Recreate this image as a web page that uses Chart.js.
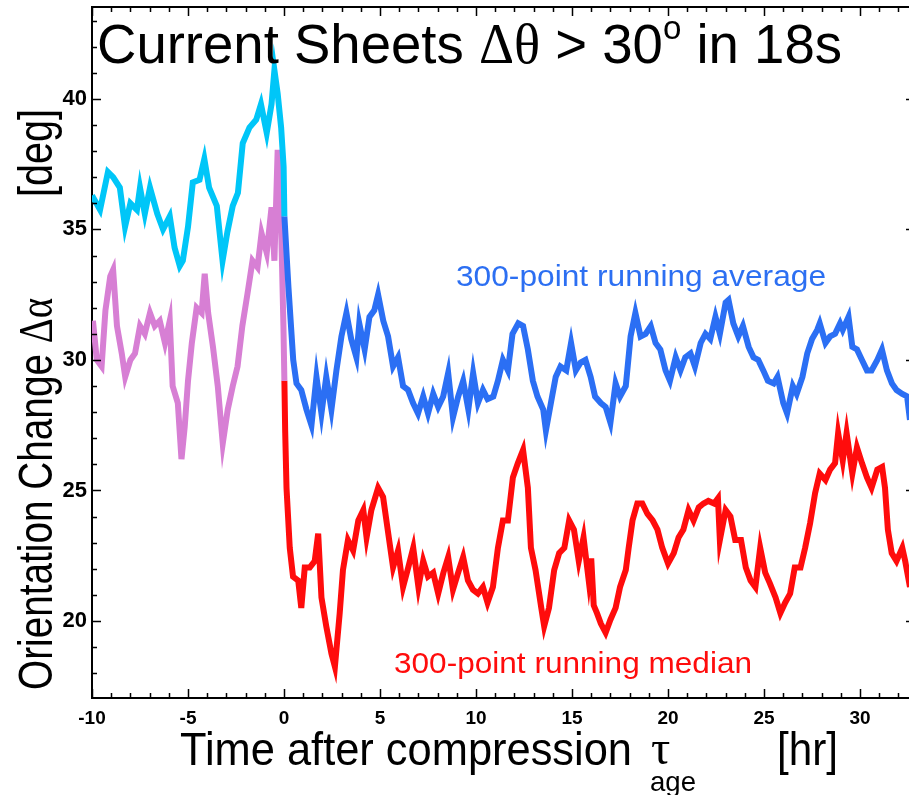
<!DOCTYPE html>
<html>
<head>
<meta charset="utf-8">
<script src="https://cdn.jsdelivr.net/npm/chart.js@4.4.0/dist/chart.umd.min.js"></script>
<style>
  body { margin: 0; background: #fff; }
  #wrap { width: 909px; height: 795px; }
</style>
</head>
<body>
<div id="wrap"><canvas id="chart" width="909" height="795"></canvas></div>
<script>
// running average before compression (cyan)
const avgPreTime = [
  -10, -9.58, -9.17, -8.9, -8.55, -8.28, -8.0, -7.66, -7.5, -7.25,
  -6.98, -6.6, -6.3, -5.95, -5.7, -5.43, -5.27, -5.0, -4.75, -4.4,
  -4.15, -3.9, -3.5, -3.2, -2.95, -2.67, -2.4, -2.15, -1.8, -1.45,
  -1.2, -0.9, -0.65, -0.5, -0.33, -0.15, -0.02, 0.02
];
const avgPreValue = [
  36.3, 35.75, 37.2, 37.0, 36.6, 35.1, 36.0, 35.75, 36.6, 35.6,
  36.6, 35.6, 35.0, 35.5, 34.3, 33.6, 33.8, 35.1, 36.8, 36.9,
  37.7, 36.6, 35.9, 33.8, 34.9, 35.9, 36.4, 38.3, 38.9, 39.2,
  39.8, 38.7, 39.8, 41.1, 40.2, 38.9, 37.4, 35.5
];
// running average after compression (blue)
const avgPostTime = [
  0.02, 0.23, 0.48, 0.65, 0.9, 1.17, 1.43, 1.69, 1.95, 2.2,
  2.47, 2.73, 2.99, 3.25, 3.5, 3.77, 3.92, 4.2, 4.45, 4.7,
  4.9, 5.17, 5.42, 5.68, 5.94, 6.2, 6.46, 6.72, 6.98, 7.25,
  7.5, 7.77, 8.03, 8.29, 8.55, 8.8, 9.07, 9.33, 9.6, 9.85,
  10.1, 10.36, 10.6, 10.9, 11.14, 11.4, 11.66, 11.9, 12.2, 12.45,
  12.7, 12.96, 13.2, 13.5, 13.64, 13.9, 14.15, 14.4, 14.7, 14.95,
  15.2, 15.45, 15.7, 15.97, 16.2, 16.5, 16.75, 17.0, 17.27, 17.5,
  17.8, 18.05, 18.3, 18.57, 18.83, 19.1, 19.35, 19.6, 19.87, 20.1,
  20.4, 20.65, 20.9, 21.17, 21.4, 21.7, 21.95, 22.2, 22.47, 22.7,
  23.0, 23.15, 23.4, 23.66, 23.9, 24.2, 24.45, 24.7, 24.96, 25.2,
  25.5, 25.7, 26.0, 26.2, 26.5, 26.7, 27.0, 27.25, 27.5, 27.77,
  27.9, 28.2, 28.44, 28.7, 28.96, 29.1, 29.4, 29.6, 29.84, 30.1,
  30.36, 30.6, 30.9, 31.14, 31.4, 31.66, 31.9, 32.2, 32.45, 32.6
];
const avgPostValue = [
  35.5, 32.8, 30.0, 29.1, 28.85, 28.1, 27.5, 29.35, 27.95, 29.35,
  28.1, 29.6, 30.9, 31.8, 30.8, 30.1, 31.4, 30.4, 31.65, 31.9,
  32.5, 31.5, 30.9, 29.75, 30.1, 29.0, 28.85, 28.35, 27.95, 28.6,
  27.95, 28.7, 28.2, 28.6, 29.5, 27.8, 28.6, 29.2, 28.1, 29.5,
  28.35, 28.85, 28.5, 28.6, 29.2, 30.0, 29.6, 31.0, 31.4, 31.3,
  30.4, 29.2, 28.6, 28.1, 27.3, 28.35, 29.35, 29.75, 29.6, 30.65,
  29.6, 29.9, 30.0, 29.35, 28.6, 28.35, 28.2, 27.6, 29.1, 28.6,
  29.0, 30.9, 31.8, 30.9, 31.0, 31.3, 30.65, 30.4, 29.6, 29.2,
  30.1, 29.6, 30.1, 30.25, 29.75, 30.65, 31.0, 30.8, 31.65, 31.0,
  32.2, 32.3, 31.4, 30.9, 31.3, 30.5, 30.1, 30.0, 29.6, 29.2,
  29.1, 29.35, 28.35, 27.95, 29.0, 28.7, 29.35, 30.25, 30.8, 31.15,
  31.4, 30.65, 30.9, 31.0, 31.4, 31.15, 31.65, 30.5, 30.4, 30.0,
  29.6, 29.6, 30.0, 30.4, 29.6, 29.1, 28.85, 28.7, 28.6, 27.7
];
// running median before compression (pink)
const medPreTime = [
  -10, -9.95, -9.75, -9.5, -9.3, -9.05, -8.9, -8.7, -8.45, -8.27,
  -8.0, -7.76, -7.5, -7.25, -6.98, -6.73, -6.47, -6.2, -5.95, -5.8,
  -5.53, -5.34, -5.17, -5.0, -4.8, -4.55, -4.29, -4.13, -3.95, -3.7,
  -3.45, -3.19, -2.93, -2.67, -2.42, -2.17, -1.9, -1.64, -1.38, -1.17,
  -0.9, -0.65, -0.5, -0.33, -0.15, -0.03, 0.02
];
const medPreValue = [
  30.8, 31.5, 30.0, 29.75, 31.9, 33.2, 33.45, 31.3, 30.25, 29.35,
  30.0, 30.25, 31.3, 31.0, 31.8, 31.3, 31.5, 30.65, 31.5, 29.0,
  28.35, 26.2, 27.45, 29.2, 30.65, 32.0, 31.8, 33.3, 31.8, 30.5,
  29.0, 26.8, 28.1, 29.0, 29.75, 31.3, 32.55, 33.8, 33.55, 34.85,
  34.1, 35.85, 33.8, 38.05, 35.1, 31.3, 29.2
];
// running median after compression (red)
const medPostTime = [
  0.02, 0.06, 0.13, 0.3, 0.47, 0.74, 0.9, 1.08, 1.34, 1.6,
  1.78, 1.95, 2.2, 2.47, 2.65, 2.9, 3.07, 3.33, 3.6, 3.87,
  4.13, 4.3, 4.55, 4.9, 5.16, 5.4, 5.68, 5.94, 6.2, 6.47,
  6.73, 7.0, 7.25, 7.5, 7.77, 8.03, 8.3, 8.55, 8.8, 9.07,
  9.33, 9.58, 9.84, 10.1, 10.36, 10.6, 10.88, 11.14, 11.4, 11.66,
  11.92, 12.18, 12.45, 12.7, 12.86, 13.1, 13.4, 13.55, 13.8, 14.07,
  14.33, 14.6, 14.85, 15.1, 15.35, 15.6, 15.87, 16.0, 16.13, 16.3,
  16.5, 16.75, 17.0, 17.27, 17.5, 17.8, 17.95, 18.15, 18.4, 18.66,
  18.93, 19.2, 19.45, 19.7, 20.0, 20.3, 20.55, 20.8, 21.07, 21.33,
  21.6, 21.85, 22.1, 22.4, 22.6, 22.7, 23.0, 23.25, 23.5, 23.8,
  24.05, 24.3, 24.55, 24.8, 25.06, 25.3, 25.6, 25.85, 26.1, 26.36,
  26.6, 26.9, 27.14, 27.4, 27.66, 27.9, 28.2, 28.44, 28.7, 28.86,
  29.1, 29.3, 29.6, 29.84, 30.1, 30.36, 30.6, 30.9, 31.15, 31.3,
  31.45, 31.65, 31.9, 32.2, 32.35, 32.6
];
const medPostValue = [
  29.2, 27.3, 25.1, 22.8, 21.7, 21.55, 20.5, 22.05, 22.05, 22.3,
  23.35, 20.9, 19.8, 18.75, 18.25, 20.3, 21.95, 23.1, 22.7, 23.85,
  24.25, 23.2, 24.25, 25.1, 24.75, 23.5, 22.05, 22.7, 21.3, 22.05,
  22.8, 21.3, 22.3, 21.7, 21.85, 21.05, 21.85, 22.45, 21.2, 21.85,
  22.45, 21.55, 21.2, 21.05, 21.3, 20.7, 21.3, 22.8, 23.85, 23.85,
  25.5, 26.05, 26.55, 25.1, 22.8, 21.95, 20.5, 19.8, 20.5, 21.95,
  22.6, 22.8, 23.85, 23.5, 22.3, 23.2, 21.55, 22.4, 20.6, 20.3,
  19.9, 19.55, 20.05, 20.5, 21.3, 21.95, 22.8, 23.85, 24.5, 24.5,
  24.1, 23.85, 23.5, 22.8, 22.2, 22.6, 23.2, 23.5, 24.25, 23.85,
  24.35, 24.5, 24.6, 24.5, 24.7, 23.1, 24.25, 24.0, 23.1, 23.1,
  22.05, 21.55, 21.3, 22.8, 21.85, 21.45, 20.9, 20.3, 20.7, 21.05,
  22.05, 22.05, 22.8, 23.75, 24.9, 25.65, 25.4, 25.8, 26.05, 27.2,
  26.15, 27.2, 25.65, 26.65, 26.05, 25.5, 25.1, 25.8, 25.9, 25.1,
  23.5, 22.6, 22.3, 22.8, 22.3, 21.3
];
const xTickStep = 5;
const yTickStep = 5;

const SANS = '"Liberation Sans", Arial, Helvetica, sans-serif';
const SERIF = '"Liberation Serif", "Times New Roman", serif';

const toPoints = function (xs, ys) {
  if (xs.length != ys.length) console.log('length mismatch', xs.length, ys.length);
  return xs.map((x, i) => ({ x: x, y: ys[i] }));
};

// draw a run of text pieces squeezed to a given width
const drawFit = function (ctx, parts, x, y, width) {
  let total = 0;
  for (const p of parts) {
    ctx.font = p.font;
    total += ctx.measureText(p.text).width;
  }
  const s = width / total;
  ctx.save();
  ctx.translate(x, y);
  ctx.scale(s, 1);
  let cx = 0;
  for (const p of parts) {
    ctx.font = p.font;
    ctx.fillText(p.text, cx, p.dy || 0);
    cx += ctx.measureText(p.text).width;
  }
  ctx.restore();
};

const decorPlugin = {
  id: 'decor',
  afterDraw(chart) {
    const ctx = chart.ctx;
    const area = chart.chartArea;
    const xs = chart.scales.x;
    const ys = chart.scales.y;
    ctx.save();
    ctx.strokeStyle = '#000';
    ctx.fillStyle = '#000';
    // top frame line
    ctx.lineWidth = 2;
    ctx.beginPath();
    ctx.moveTo(area.left, area.top);
    ctx.lineTo(area.right, area.top);
    ctx.stroke();
    // inward ticks, major every 5, minor every 1
    ctx.lineWidth = 1.5;
    ctx.beginPath();
    for (let v = Math.ceil(xs.min); v <= xs.max; v++) {
      const px = Math.round(xs.getPixelForValue(v)) + 0.5;
      const len = v % 5 == 0 ? 9 : 5;
      ctx.moveTo(px, area.bottom);
      ctx.lineTo(px, area.bottom - len);
      ctx.moveTo(px, area.top);
      ctx.lineTo(px, area.top + len);
    }
    for (let v = Math.ceil(ys.min); v <= ys.max; v++) {
      const py = Math.round(ys.getPixelForValue(v)) + 0.5;
      const len = v % 5 == 0 ? 9 : 5;
      ctx.moveTo(area.left, py);
      ctx.lineTo(area.left + len, py);
      ctx.moveTo(area.right + 6, py);
      ctx.lineTo(area.right + 6 - len, py);
    }
    ctx.stroke();

    ctx.textBaseline = 'alphabetic';
    ctx.textAlign = 'left';
    // title inside the plot
    drawFit(ctx, [
      { text: 'Current Sheets ', font: '56px ' + SANS },
      { text: 'Δθ', font: '56px ' + SERIF },
      { text: ' > 30', font: '56px ' + SANS },
      { text: 'o', font: '34px ' + SANS, dy: -24 },
      { text: ' in 18s', font: '56px ' + SANS },
    ], 97, 63, 745);

    // series notes
    ctx.fillStyle = '#2c6ff2';
    drawFit(ctx, [{ text: '300-point running average', font: '30px ' + SANS }], 456, 286, 370);
    ctx.fillStyle = '#ff0c0c';
    drawFit(ctx, [{ text: '300-point running median', font: '30px ' + SANS }], 394, 673, 358);

    // x axis title
    ctx.fillStyle = '#000';
    drawFit(ctx, [{ text: 'Time after compression', font: '46px ' + SANS }], 180, 765, 452);
    ctx.font = '48px ' + SERIF;
    ctx.fillText('τ', 651, 764);
    drawFit(ctx, [{ text: 'age', font: '28px ' + SANS }], 650, 791, 46);
    drawFit(ctx, [{ text: '[hr]', font: '46px ' + SANS }], 777, 765, 61);

    // y axis title, rotated
    ctx.save();
    ctx.translate(52, 690);
    ctx.rotate(-Math.PI / 2);
    drawFit(ctx, [
      { text: 'Orientation Change ', font: '48px ' + SANS },
      { text: 'Δα', font: '48px ' + SERIF },
    ], 0, 0, 392);
    drawFit(ctx, [{ text: '[deg]', font: '48px ' + SANS }], 493, 0, 88);
    ctx.restore();

    ctx.restore();
  },
};

const makeSet = function (label, xs, ys, color) {
  return {
    label: label,
    data: toPoints(xs, ys),
    borderColor: color,
    borderWidth: 6,
    pointRadius: 0,
    fill: false,
    tension: 0,
    borderJoinStyle: 'miter',
  };
};

const init = function () {
  const canvas = document.querySelector('#chart');
  new Chart(canvas, {
    type: 'line',
    data: {
      datasets: [
        makeSet('average before', avgPreTime, avgPreValue, '#00c6f8'),
        makeSet('average after', avgPostTime, avgPostValue, '#2b6ff4'),
        makeSet('median before', medPreTime, medPreValue, '#d77fd4'),
        makeSet('median after', medPostTime, medPostValue, '#ff0c0c'),
      ],
    },
    options: {
      responsive: false,
      animation: false,
      devicePixelRatio: 1,
      layout: { autoPadding: false, padding: { top: 7, left: 0, right: 0, bottom: 0 } },
      plugins: {
        legend: { display: false },
        tooltip: { enabled: false },
      },
      scales: {
        x: {
          type: 'linear',
          min: -10,
          max: 32.55,
          grid: { display: false, drawTicks: false },
          border: { display: true, color: '#000', width: 2 },
          ticks: {
            stepSize: xTickStep,
            includeBounds: false,
            autoSkip: false,
            maxRotation: 0,
            color: '#000',
            padding: 9,
            font: { family: SANS, size: 19, weight: 'bold' },
          },
          afterFit: function (scale) {
            scale.height = 97;
            scale.paddingLeft = 0;
            scale.paddingRight = 0;
          },
        },
        y: {
          type: 'linear',
          min: 17.05,
          max: 43.52,
          grid: { display: false, drawTicks: false },
          border: { display: true, color: '#000', width: 2 },
          ticks: {
            stepSize: yTickStep,
            includeBounds: false,
            color: '#000',
            padding: 5,
            font: { family: SANS, size: 22, weight: 'bold' },
          },
          afterFit: function (scale) {
            scale.width = 92;
            scale.paddingTop = 0;
            scale.paddingBottom = 0;
          },
        },
      },
    },
    plugins: [decorPlugin],
  });
};
document.addEventListener('DOMContentLoaded', init);
</script>
</body>
</html>
